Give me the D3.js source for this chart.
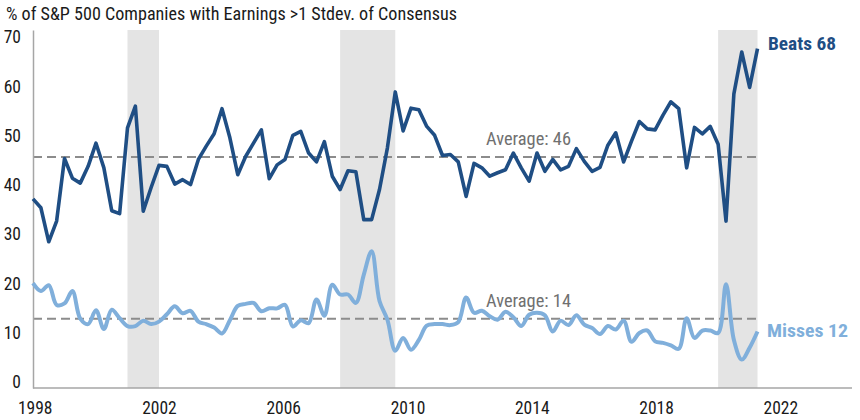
<!DOCTYPE html>
<html>
<head>
<meta charset="utf-8">
<script src="https://cdn.jsdelivr.net/npm/d3@7"></script>
<style>
  html, body { margin: 0; padding: 0; background: #fff; }
  svg text { font-family: "Liberation Sans Narrow", "Roboto Condensed", "Arial Narrow", "Roboto", sans-serif; }
</style>
</head>
<body>
<svg id="chart" width="860" height="420"></svg>
<script>
// ---- data ----
const startYear = 1998; // first quarter of the series (quarterly data)
const beats = [37.2,35.4,28.5,32.7,45.4,41.4,40.4,43.8,48.5,43.5,34.8,34.2,51.6,56.0,34.7,39.5,44.0,43.8,40.2,41.1,
  40.1,45.2,47.9,50.4,55.5,49.6,42.1,45.8,48.5,51.2,41.3,44.1,45.2,50.1,50.9,46.5,44.7,48.8,41.8,39.1,
  42.9,42.7,33.0,33.0,39.1,47.5,58.9,51.0,55.6,55.3,51.9,50.1,46.0,46.2,44.7,37.7,44.4,43.5,41.8,42.5,
  43.1,46.5,43.5,40.8,46.5,42.8,45.2,43.1,43.8,47.4,44.8,42.8,43.6,48.1,50.6,44.7,48.9,52.9,51.4,51.2,
  54.2,56.9,55.5,43.5,51.7,50.4,51.9,48.3,32.7,58.5,67.0,59.8,67.7];
const misses = [20.1,18.5,19.7,15.7,16.0,18.5,12.9,11.8,14.6,10.8,14.7,13.0,11.4,11.4,12.5,11.8,12.3,13.8,15.4,14.0,
  14.5,12.3,11.8,11.1,9.9,12.6,15.5,15.9,16.1,14.4,15.0,15.0,15.7,11.3,12.6,12.0,16.8,13.5,19.8,17.8,
  17.8,16.1,21.8,26.6,16.5,12.7,6.4,9.0,6.6,8.6,11.5,11.8,11.8,11.6,12.2,17.2,14.1,14.5,13.4,12.7,
  14.3,13.2,11.4,13.7,14.1,13.6,10.3,12.5,11.6,13.6,11.7,11.0,9.8,11.4,10.7,12.5,8.2,10.0,10.5,8.3,
  8.0,7.5,6.8,13.0,9.0,10.5,10.5,10.0,19.9,8.6,4.6,7.0,10.3];
const averages = [{ value: 45.7, label: "Average: 46" }, { value: 12.9, label: "Average: 14" }];
const recessions = [[2001, 2002], [2007.75, 2009.5], [2019.75, 2021]];
const yearTicks = [1998, 2002, 2006, 2010, 2014, 2018, 2022];
const yTicks = [0, 10, 20, 30, 40, 50, 60, 70];
const title = "% of S&P 500 Companies with Earnings >1 Stdev. of Consensus";
const seriesLabels = { beats: "Beats 68", misses: "Misses 12" };

// ---- styles ----
const C = { beats: "#1f4e84", misses: "#80afdb", axis: "#a6a6a6", band: "#e4e4e4", avg: "#8c8c8c", avgText: "#707070", text: "#1a1a1a" };
const FONT = '"Liberation Sans Narrow", "Roboto Condensed", "Arial Narrow", "Roboto", sans-serif';

const svg = d3.select("#chart");
const x = d3.scaleLinear().domain([1998, 2024]).range([33, 852]);
const xYear = d3.scaleLinear().domain([1998, 2022]).range([34.7, 780.3]);
const y = d3.scaleLinear().domain([-1.16, 71.46]).range([388, 30]);
const t = i => startYear + i / 4;

// recession bands
svg.append("g").selectAll("rect").data(recessions).join("rect")
  .attr("x", d => x(d[0])).attr("width", d => x(d[1]) - x(d[0]))
  .attr("y", y(71.46)).attr("height", y(-1.16) - y(71.46))
  .attr("fill", C.band);

// average lines
const lastT = t(beats.length - 1);
svg.append("g").selectAll("line").data(averages).join("line")
  .attr("x1", x(1998)).attr("x2", x(lastT))
  .attr("y1", d => y(d.value)).attr("y2", d => y(d.value))
  .attr("stroke", C.avg).attr("stroke-width", 2).attr("stroke-dasharray", "9,5");
svg.append("g").selectAll("text").data(averages).join("text")
  .attr("x", 486).attr("y", d => y(d.value) - 12)
  .attr("font-size", 18).attr("fill", C.avgText)
  .attr("textLength", 85).attr("lengthAdjust", "spacingAndGlyphs")
  .text(d => d.label);

// y axis
const yAxis = d3.axisLeft(y).tickValues(yTicks).tickSize(0).tickPadding(12).tickFormat(d3.format("d"));
const gy = svg.append("g").attr("transform", `translate(${x(1998)},0)`).call(yAxis);
gy.select(".domain").attr("stroke", C.axis).attr("stroke-width", 1.5);
gy.selectAll("text").attr("font-size", 17.5).attr("fill", C.text).style("font-family", FONT);

// x axis
const xAxis = d3.axisBottom(xYear).tickValues(yearTicks).tickSize(0).tickPadding(14).tickFormat(d3.format("d"));
const gx = svg.append("g").attr("transform", `translate(0,${y(-1.16)})`).call(xAxis);
gx.select(".domain").remove();
svg.append("line").attr("x1", x(1998)).attr("x2", x(2024)).attr("y1", y(-1.16)).attr("y2", y(-1.16))
  .attr("stroke", C.axis).attr("stroke-width", 1.5);
gx.selectAll("text").attr("font-size", 17.5).attr("fill", C.text).style("font-family", FONT);

// lines
const beatsLine = d3.line().x((d, i) => x(t(i))).y(d => y(d)).curve(d3.curveLinear);
const missLine = d3.line().x((d, i) => x(t(i))).y(d => y(d)).curve(d3.curveCatmullRom.alpha(0.5));
svg.append("path").datum(misses).attr("d", missLine).attr("fill", "none")
  .attr("stroke", C.misses).attr("stroke-width", 4).attr("stroke-linejoin", "round");
svg.append("path").datum(beats).attr("d", beatsLine).attr("fill", "none")
  .attr("stroke", C.beats).attr("stroke-width", 3.6).attr("stroke-linejoin", "round");

// series labels
svg.append("text").attr("x", 768).attr("y", y(beats[beats.length - 1]) - 3)
  .attr("font-size", 18).attr("font-weight", "bold").attr("fill", C.beats)
  .attr("dominant-baseline", "middle")
  .attr("textLength", 68).attr("lengthAdjust", "spacingAndGlyphs")
  .text(seriesLabels.beats);
svg.append("text").attr("x", 767).attr("y", y(misses[misses.length - 1]) + 0.5)
  .attr("font-size", 18).attr("font-weight", "bold").attr("fill", C.misses)
  .attr("dominant-baseline", "middle")
  .attr("textLength", 81).attr("lengthAdjust", "spacingAndGlyphs")
  .text(seriesLabels.misses);

// title
svg.append("text").attr("x", 6).attr("y", 20)
  .attr("font-size", 18).attr("fill", C.text)
  .attr("textLength", 451).attr("lengthAdjust", "spacingAndGlyphs")
  .text(title);
</script>
</body>
</html>
